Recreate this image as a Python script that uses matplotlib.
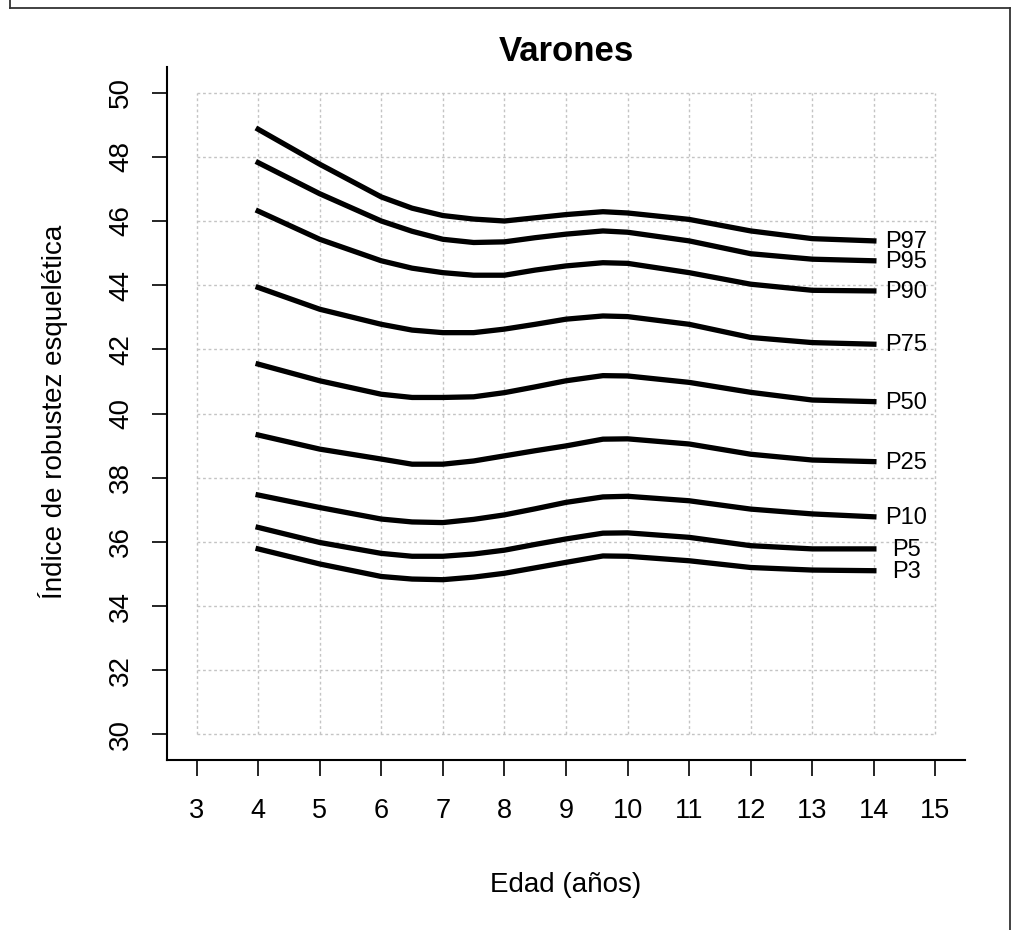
import numpy as np
import matplotlib
matplotlib.use('Agg')
import matplotlib.pyplot as plt
from matplotlib.lines import Line2D

plt.rcParams['font.family'] = ['Liberation Sans', 'DejaVu Sans']

# edad (años) y percentiles
ages = [4, 5, 6, 6.5, 7, 7.5, 8, 8.5, 9, 9.6, 10, 11, 12, 13, 14]
p97 = [48.86, 47.77, 46.75, 46.40, 46.17, 46.06, 46.00, 46.10, 46.20, 46.29, 46.25, 46.05, 45.69, 45.45, 45.38]
p95 = [47.82, 46.85, 46.00, 45.68, 45.43, 45.33, 45.35, 45.48, 45.59, 45.69, 45.65, 45.38, 44.98, 44.81, 44.76]
p90 = [46.31, 45.43, 44.76, 44.53, 44.39, 44.31, 44.31, 44.47, 44.60, 44.70, 44.68, 44.39, 44.03, 43.84, 43.82]
p75 = [43.93, 43.25, 42.78, 42.60, 42.52, 42.52, 42.63, 42.78, 42.94, 43.04, 43.02, 42.78, 42.37, 42.21, 42.16]
p50 = [41.54, 41.02, 40.60, 40.50, 40.50, 40.52, 40.65, 40.83, 41.02, 41.18, 41.17, 40.97, 40.66, 40.42, 40.37]
p25 = [39.33, 38.89, 38.58, 38.42, 38.42, 38.52, 38.68, 38.84, 38.99, 39.20, 39.21, 39.05, 38.73, 38.55, 38.50]
p10 = [37.46, 37.07, 36.71, 36.62, 36.60, 36.70, 36.84, 37.03, 37.23, 37.40, 37.42, 37.28, 37.02, 36.87, 36.78]
p5 = [36.45, 35.98, 35.64, 35.55, 35.55, 35.62, 35.74, 35.92, 36.09, 36.27, 36.28, 36.14, 35.88, 35.78, 35.78]
p3 = [35.78, 35.31, 34.92, 34.84, 34.82, 34.90, 35.02, 35.19, 35.36, 35.56, 35.55, 35.41, 35.20, 35.12, 35.10]

labels = ['P97', 'P95', 'P90', 'P75', 'P50', 'P25', 'P10', 'P5', 'P3']
curves = [p97, p95, p90, p75, p50, p25, p10, p5, p3]

x_ticks = list(range(3, 16))
y_ticks = list(range(30, 51, 2))

W, H = 1014, 930
fig = plt.figure(figsize=(W / 100, H / 100), dpi=100)
ax = fig.add_axes([167 / W, 1 - 760 / H, (965 - 167) / W, (760 - 67) / H])
ax.set_xlim(2.52, 15.48)
ax.set_ylim(29.2, 50.8)

# rejilla punteada solo dentro del rango 3-15 / 30-50
for x in x_ticks:
    ax.plot([x, x], [30, 50], color='#c4c4c4', lw=1, ls=(0, (2, 2)), zorder=0)
for y in y_ticks:
    ax.plot([3, 15], [y, y], color='#c4c4c4', lw=1, ls=(0, (2, 2)), zorder=0)

for lab, vals in zip(labels, curves):
    ax.plot(ages, vals, color='black', lw=3.8, solid_joinstyle='round', zorder=2)
    ax.text(14.53, vals[-1] - 0.03, lab, ha='center', va='center', fontsize=17)

ax.spines['top'].set_visible(False)
ax.spines['right'].set_visible(False)
ax.spines['left'].set_linewidth(1.5)
ax.spines['bottom'].set_linewidth(1.5)

ax.set_xticks(x_ticks)
ax.set_yticks(y_ticks)
ax.tick_params(axis='x', length=11.5, width=1.2, pad=16, labelsize=19.5)
ax.tick_params(axis='y', length=10.8, width=1.2, pad=13, labelsize=20, labelrotation=90)
for t in ax.get_yticklabels():
    t.set_va('center')

fig.text(566 / W, 1 - 61 / H, 'Varones', ha='center', va='baseline',
         fontsize=25, fontweight='bold')
fig.text(566 / W, 1 - 892 / H, 'Edad (años)', ha='center', va='baseline', fontsize=20)
fig.text(62 / W, 1 - 412 / H, 'Índice de robustez esquelética', ha='center',
         va='baseline', rotation=90, rotation_mode='anchor', fontsize=20)

# marco exterior
for xs, ys in [([9.5, 9.5], [0, 8.5]), ([9.5, 1010], [8.5, 8.5]), ([1010, 1010], [8.5, 930])]:
    fig.add_artist(Line2D([v / W for v in xs], [1 - v / H for v in ys],
                          transform=fig.transFigure, color='#333333', lw=1.3))

fig.savefig('out.png', dpi=100)
